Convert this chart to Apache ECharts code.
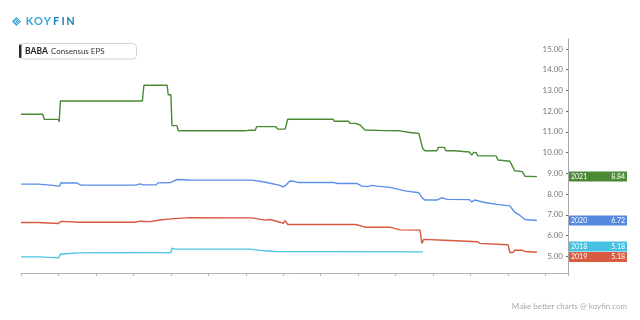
<!DOCTYPE html>
<html><head><meta charset="utf-8">
<script src="https://cdn.jsdelivr.net/npm/echarts@6/dist/echarts.min.js"></script>
<style>html,body{margin:0;padding:0;background:#fff}#c{width:640px;height:320px}</style>
</head><body><div id="c"></div>
<script>
// x values are months since the start of the window
const ticker = 'BABA';
const metric = 'Consensus EPS';
const yTicks = [5, 6, 7, 8, 9, 10, 11, 12, 13, 14, 15];
const fy2021 = [[0,11.85],[0.58,11.85],[0.62,11.60],[1.0,11.60],[1.02,11.49],[1.05,12.49],[3.24,12.49],[3.28,13.25],[3.90,13.25],[3.93,12.79],[4.0,12.79],[4.03,11.30],[4.16,11.30],[4.20,11.05],[5.98,11.05],[6.09,11.08],[6.25,11.08],[6.29,11.25],[6.80,11.25],[6.86,11.13],[7.05,11.13],[7.12,11.61],[8.33,11.61],[8.36,11.51],[8.74,11.51],[8.78,11.41],[8.93,11.41],[8.96,11.35],[9.05,11.33],[9.18,11.09],[9.71,11.06],[10.11,11.05],[10.15,10.97],[10.38,10.97],[10.41,10.93],[10.62,10.92],[10.72,10.20],[10.78,10.09],[11.10,10.09],[11.14,10.25],[11.30,10.25],[11.34,10.09],[11.57,10.09],[11.62,10.04],[11.97,10.03],[12.03,9.88],[12.08,10.01],[12.15,10.00],[12.19,9.85],[12.68,9.84],[12.73,9.64],[13.05,9.58],[13.18,9.12],[13.38,9.08],[13.45,8.86],[13.77,8.84]];
const fy2020 = [[0,8.48],[0.46,8.48],[0.51,8.42],[0.86,8.42],[0.90,8.45],[0.97,8.38],[1.03,8.38],[1.06,8.53],[1.49,8.53],[1.60,8.43],[3.05,8.43],[3.10,8.49],[3.18,8.49],[3.24,8.44],[3.60,8.44],[3.66,8.54],[4.0,8.56],[4.16,8.70],[4.5,8.68],[6.16,8.67],[6.50,8.58],[6.65,8.52],[6.91,8.42],[6.99,8.35],[7.05,8.40],[7.18,8.63],[7.26,8.62],[7.39,8.56],[8.33,8.56],[8.45,8.51],[8.96,8.51],[9.10,8.38],[9.25,8.36],[9.37,8.42],[9.50,8.38],[9.85,8.32],[10.25,8.15],[10.62,8.06],[10.72,7.79],[10.78,7.71],[11.10,7.71],[11.22,7.82],[11.38,7.74],[11.97,7.73],[12.03,7.62],[12.11,7.71],[12.38,7.59],[12.70,7.50],[13.05,7.43],[13.18,7.11],[13.31,6.98],[13.45,6.77],[13.77,6.72]];
const fy2019 = [[0,6.63],[0.46,6.63],[0.51,6.58],[1.0,6.58],[1.06,6.68],[1.58,6.64],[3.05,6.64],[3.18,6.69],[3.45,6.67],[3.71,6.75],[4.0,6.80],[4.03,6.88],[4.5,6.86],[6.16,6.85],[6.51,6.74],[6.65,6.77],[6.91,6.64],[6.99,6.58],[7.05,6.72],[7.12,6.53],[8.93,6.53],[9.10,6.45],[9.18,6.40],[9.85,6.40],[10.11,6.27],[10.65,6.26],[10.70,5.62],[10.75,5.81],[11.30,5.77],[12.19,5.70],[12.25,5.62],[13.0,5.55],[13.05,5.18],[13.13,5.18],[13.18,5.29],[13.37,5.29],[13.45,5.23],[13.77,5.19]];
const fy2018 = [[0,4.97],[0.46,4.97],[0.51,4.92],[1.0,4.92],[1.06,5.11],[1.58,5.16],[4.0,5.18],[4.03,5.39],[4.10,5.34],[6.11,5.34],[6.50,5.26],[6.78,5.23],[10.73,5.21]];
const lastValues = { '2021': 8.84, '2020': 6.72, '2018': 5.18, '2019': 5.18 };

const X_MAX = 14.6;
const seriesDefs = [
  { name: '2018', data: fy2018, color: '#4ec3e4', box: '#47c1e2', off: -6 },
  { name: '2019', data: fy2019, color: '#d9573f', box: '#d95b42', off: 4.5 },
  { name: '2020', data: fy2020, color: '#5b8fe8', box: '#5689de', off: 0 },
  { name: '2021', data: fy2021, color: '#4b8a35', box: '#4d8a36', off: 0 }
];

const chart = echarts.init(document.getElementById('c'), null, { renderer: 'canvas' });
const FONT = 'Lato';

const series = seriesDefs.map(d => ({
  name: d.name,
  type: 'line',
  data: d.data,
  showSymbol: false,
  animation: false,
  lineStyle: { color: d.color, width: 1.4 },
  itemStyle: { color: d.color },
  markPoint: {
    animation: false,
    silent: true,
    data: [{
      coord: [X_MAX, lastValues[d.name]],
      symbol: 'rect',
      symbolSize: [58, 10],
      symbolOffset: [30, d.off],
      itemStyle: { color: d.box },
      label: {
        show: true,
        position: 'inside',
        formatter: '{a|' + d.name + '}{b|' + lastValues[d.name].toFixed(2) + '}',
        rich: {
          a: { width: 36, align: 'left', color: '#fff', fontSize: 7, fontFamily: FONT },
          b: { width: 18, align: 'right', color: '#fff', fontSize: 7, fontFamily: FONT }
        }
      }
    }]
  }
}));

const logoLetters = ['K', 'O', 'Y', 'F', 'I', 'N'];
const logoX = [29.5, 38.5, 47.3, 56.2, 63.2, 70.5];
const logoGraphics = logoLetters.map((ch, i) => ({
  type: 'text',
  x: logoX[i], y: 21.5,
  style: { text: ch, fill: i < 3 ? '#38a5db' : '#1a86b8', font: 'bold 11px Lato', textAlign: 'center', textVerticalAlign: 'middle' }
}));

chart.setOption({
  animation: false,
  backgroundColor: '#fff',
  grid: { left: 21, right: 72, top: 39, bottom: 47 },
  xAxis: {
    type: 'value', min: 0, max: X_MAX, interval: 1,
    axisLine: { show: true, onZero: false, lineStyle: { color: '#b5b5b5' } },
    axisTick: { show: true, length: 3, lineStyle: { color: '#b5b5b5' } },
    axisLabel: { show: false },
    splitLine: { show: false }
  },
  yAxis: {
    type: 'value', position: 'right', min: 4.19, max: 15.48,
    axisLine: { show: true, onZero: false, lineStyle: { color: '#a8a8a8' } },
    axisTick: { show: true, inside: true, length: 2, customValues: yTicks, lineStyle: { color: '#666' } },
    axisLabel: { show: true, inside: true, margin: 5, customValues: yTicks, color: '#777', fontSize: 8, fontFamily: FONT, formatter: v => v.toFixed(2) },
    splitLine: { show: false }
  },
  graphic: [
    { type: 'polygon', shape: { points: [[16.5, 17], [21, 21.5], [16.5, 26], [12, 21.5]] }, style: { fill: '#38a5db' } },
    { type: 'polyline', shape: { points: [[17.5, 18.8], [14.8, 21.5], [17.5, 24.2]] }, style: { stroke: '#fff', lineWidth: 1, fill: null } },
    { type: 'polyline', shape: { points: [[19.5, 19.5], [17.5, 21.5], [19.5, 23.5]] }, style: { stroke: '#fff', lineWidth: 0.8, fill: null } },
    ...logoGraphics,
    { type: 'rect', shape: { x: 20, y: 43.5, width: 116.5, height: 15.5, r: 4 }, style: { fill: '#fff', stroke: '#d4d4d4', lineWidth: 1 } },
    { type: 'rect', shape: { x: 19, y: 44.5, width: 2.5, height: 13.5, r: 1 }, style: { fill: '#2b2b2b' } },
    { type: 'text', x: 25, y: 51.5, style: { text: ticker, fill: '#222', font: 'bold 8.5px Lato', textVerticalAlign: 'middle' } },
    { type: 'text', x: 51, y: 51.5, style: { text: metric, fill: '#333', font: '8px Lato', textVerticalAlign: 'middle' } },
    { type: 'text', x: 627, y: 306.5, style: { text: 'Make better charts @ koyfin.com', fill: '#a8a8a8', font: '8px Lato', textAlign: 'right', textVerticalAlign: 'middle' } }
  ],
  series: series
});
</script>
</body></html>
